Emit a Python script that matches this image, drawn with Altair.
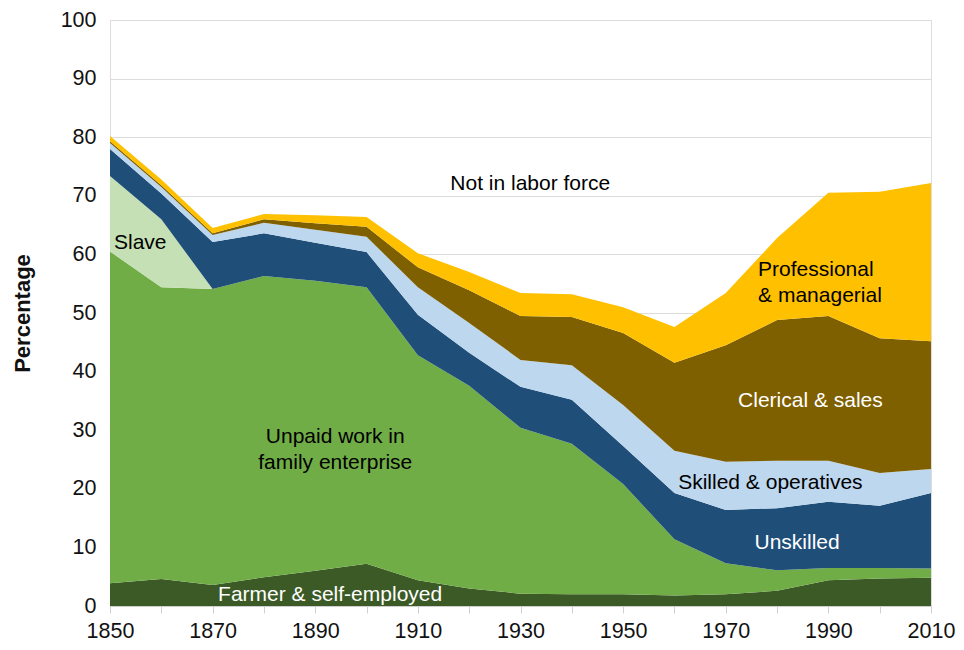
import altair as alt
import pandas as pd

years = [1850, 1860, 1870, 1880, 1890, 1900, 1910, 1920, 1930, 1940, 1950, 1960, 1970, 1980, 1990, 2000, 2010]

farmer = [3.9, 4.6, 3.6, 4.9, 6.0, 7.2, 4.4, 3.0, 2.1, 2.0, 2.0, 1.8, 2.0, 2.6, 4.4, 4.7, 4.8]
unpaid = [56.6, 49.8, 50.5, 51.4, 49.5, 47.2, 38.4, 34.6, 28.3, 25.7, 18.8, 9.6, 5.3, 3.5, 2.1, 1.8, 1.6]
slave = [12.9, 11.6, 0, 0, 0, 0, 0, 0, 0, 0, 0, 0, 0, 0, 0, 0, 0]
unskilled = [4.6, 4.4, 8.0, 7.3, 6.5, 6.0, 6.9, 5.6, 7.0, 7.5, 6.5, 7.9, 9.1, 10.6, 11.3, 10.6, 12.9]
skilled = [1.0, 1.1, 1.2, 1.8, 2.2, 2.6, 4.7, 5.1, 4.6, 5.9, 7.0, 7.2, 8.2, 8.1, 7.0, 5.6, 4.1]
clerical = [0.3, 0.3, 0.3, 0.6, 1.1, 1.7, 3.4, 5.6, 7.5, 8.2, 12.3, 15.0, 19.9, 24.0, 24.7, 23.0, 21.8]
professional = [0.9, 1.0, 0.9, 0.9, 1.4, 1.7, 2.4, 3.1, 3.9, 3.9, 4.4, 6.1, 8.9, 14.0, 21.0, 25.0, 27.0]

categories = ["Farmer & self-employed", "Unpaid work in family enterprise", "Slave",
              "Unskilled", "Skilled & operatives", "Clerical & sales", "Professional & managerial"]
colors = ["#3b5a25", "#70ad47", "#c5e0b4", "#1f4e79", "#bdd7ee", "#7f6000", "#ffc000"]
series = [farmer, unpaid, slave, unskilled, skilled, clerical, professional]

rows = []
for i, (cat, vals) in enumerate(zip(categories, series)):
    for y, v in zip(years, vals):
        rows.append({"year": y, "category": cat, "value": v, "order": i})
df = pd.DataFrame(rows)

label_text = ["Slave", "Not in labor force", "Professional\n& managerial", "Clerical & sales",
              "Skilled & operatives", "Unskilled", "Unpaid work in\nfamily enterprise",
              "Farmer & self-employed"]
label_year = [1855.9, 1931.9, 1976.3, 1986.5, 1978.7, 1983.9, 1893.9, 1892.9]
label_value = [61.9, 72.0, 57.3, 35.0, 21.0, 10.7, 28.8, 1.9]
label_color = ["black", "black", "black", "white", "black", "white", "black", "white"]
label_align = ["center", "center", "left", "center", "center", "center", "center", "center"]
labels = pd.DataFrame({"text": label_text, "year": label_year, "value": label_value,
                       "color": label_color, "align": label_align})

FONT = "Liberation Sans"

x = alt.X("year:Q", scale=alt.Scale(domain=[1850, 2010], nice=False, zero=False),
          axis=alt.Axis(values=years, format="d", title=None, grid=False,
                        labelExpr="datum.value % 20 == 10 ? datum.label : ''",
                        labelFontSize=21.5, labelColor="#111", labelFont=FONT,
                        labelFlush=False,
                        tickColor="#cfcfcf", tickSize=7, domainColor="#cfcfcf",
                        labelPadding=7, labelOverlap=False))
y = alt.Y("value:Q", stack="zero", scale=alt.Scale(domain=[0, 100], nice=False),
          axis=alt.Axis(values=list(range(0, 101, 10)), title="Percentage",
                        titleFontSize=22, titleFontWeight="bold", titleFont=FONT,
                        titleColor="#111", titlePadding=26,
                        labelFontSize=21.5, labelColor="#111", labelFont=FONT,
                        labelFlush=False,
                        domain=False, ticks=False, labelPadding=14,
                        gridColor="#dcdcdc", gridWidth=1.2))

areas = alt.Chart(df).mark_area(interpolate="linear").encode(
    x=x,
    y=y,
    color=alt.Color("category:N", scale=alt.Scale(domain=categories, range=colors), legend=None),
    order=alt.Order("order:Q", sort="ascending"),
)

def text_layer(align):
    sub = labels[labels["align"] == align]
    return alt.Chart(sub).mark_text(fontSize=21, font=FONT, align=align, baseline="middle",
                                    lineBreak="\n", lineHeight=26).encode(
        x=alt.X("year:Q"),
        y=alt.Y("value:Q"),
        text="text:N",
        color=alt.Color("color:N", scale=None),
    )

chart = alt.layer(areas, text_layer("center"), text_layer("left")).properties(
    width=821, height=586,
    autosize=alt.AutoSizeParams(type="none"),
    padding={"left": 102, "top": 12, "right": 25, "bottom": 36},
).configure_view(stroke=None).configure(background="white")

chart.save("out.html", embed_options={"renderer": "svg", "actions": False})
